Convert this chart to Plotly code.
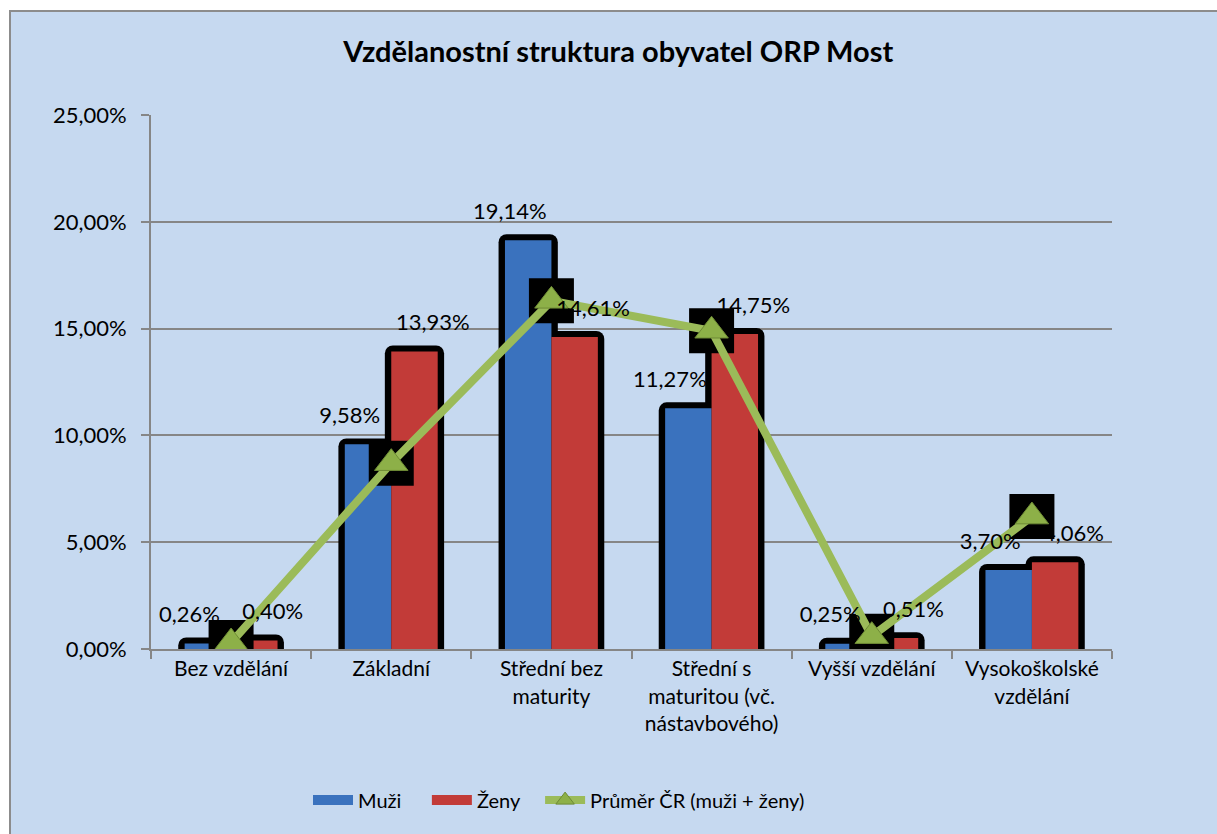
import plotly.graph_objects as go

categories = ["Bez vzdělání", "Základní", "Střední bez<br>maturity",
              "Střední s<br>maturitou (vč.<br>nástavbového)", "Vyšší vzdělání",
              "Vysokoškolské<br>vzdělání"]
muzi = [0.26, 9.58, 19.14, 11.27, 0.25, 3.70]
zeny = [0.40, 13.93, 14.61, 14.75, 0.51, 4.06]
prumer_cr = [0.30, 8.70, 16.30, 14.90, 0.60, 6.20]
y_ticks = [0, 5, 10, 15, 20, 25]

FONT = "Lato"
BLUE = "#3A72BE"
RED = "#C23B38"
GREEN = "#9BBB59"
BG = "#C6D9F0"
NBSP = "\u00a0"

def frac(vals, add=0.0):
    return [(v + add) / 100 for v in vals]

def lab(vals):
    return [f"{v:.2f}%".replace(".", ",") for v in vals]

idx = list(range(len(categories)))
fig = go.Figure()

# shadows
fig.add_trace(go.Bar(x=categories, y=frac(muzi, 0.28), offset=-0.33, width=0.37,
                     marker=dict(color="black", cornerradius=8, line_width=0),
                     showlegend=False, hoverinfo="skip"))
fig.add_trace(go.Bar(x=categories, y=frac(zeny, 0.28), offset=-0.04, width=0.37,
                     marker=dict(color="black", cornerradius=8, line_width=0),
                     showlegend=False, hoverinfo="skip"))
# bars
fig.add_trace(go.Bar(x=categories, y=frac(muzi), offset=-0.29, width=0.29,
                     marker=dict(color=BLUE, line_width=0), name="Muži",
                     showlegend=False))
fig.add_trace(go.Bar(x=categories, y=frac(zeny), offset=0.0, width=0.29,
                     marker=dict(color=RED, line_width=0), name="Ženy",
                     showlegend=False))

# legend swatches (wide rectangles like the original)
fig.add_trace(go.Scatter(x=[None], y=[None], mode="lines", name="Muži" + NBSP * 4,
                         line=dict(color=BLUE, width=16)))
fig.add_trace(go.Scatter(x=[None], y=[None], mode="lines", name="Ženy" + NBSP * 3,
                         line=dict(color=RED, width=16)))

# data labels
fig.add_trace(go.Scatter(x=[i - 0.26 for i in idx], y=frac(muzi, 1.25), xaxis="x2",
                         mode="text", text=lab(muzi), textposition="middle center",
                         textfont=dict(family=FONT, size=22, color="black"),
                         showlegend=False, hoverinfo="skip"))
fig.add_trace(go.Scatter(x=[i + 0.26 for i in idx], y=frac(zeny, 1.25), xaxis="x2",
                         mode="text", text=lab(zeny), textposition="middle center",
                         textfont=dict(family=FONT, size=22, color="black"),
                         showlegend=False, hoverinfo="skip"))

# average line: black square backdrop, then line + triangles
fig.add_trace(go.Scatter(x=categories, y=frac(prumer_cr), mode="markers",
                         marker=dict(symbol="square", size=45, color="black"),
                         showlegend=False, hoverinfo="skip"))
fig.add_trace(go.Scatter(x=categories, y=frac(prumer_cr), mode="lines+markers",
                         name="Průměr ČR (muži + ženy)",
                         line=dict(color=GREEN, width=8),
                         marker=dict(symbol="triangle-up", size=29, color="#8DB048",
                                     line=dict(color="#6E8B35", width=1))))

fig.update_layout(
    width=1217, height=834,
    margin=dict(l=151, r=105, t=115, b=185),
    paper_bgcolor="white",
    plot_bgcolor="white",
    barmode="overlay",
    separators=", ",
    font=dict(family=FONT, size=21, color="black"),
    title=dict(text="<b>Vzdělanostní struktura obyvatel ORP Most</b>",
               x=0.508, xref="container", xanchor="center",
               y=1 - 52 / 834, yref="container", yanchor="middle",
               font=dict(family=FONT, size=29, color="black")),
    xaxis=dict(type="category", tickson="boundaries", ticks="outside", ticklen=8,
               tickcolor="#868686", tickwidth=2, showline=True, linecolor="#868686",
               linewidth=2, showgrid=False, tickfont=dict(family=FONT, size=21),
               range=[-0.5, 5.5]),
    xaxis2=dict(overlaying="x", range=[-0.5, 5.5], visible=False),
    yaxis=dict(range=[0, 0.25], tickvals=frac(y_ticks), tickformat=".2%",
               ticks="outside", ticklen=8, tickcolor="#868686", tickwidth=2,
               showline=True, linecolor="#868686", linewidth=2,
               showgrid=True, gridcolor="#868686", gridwidth=2,
               zeroline=False, ticklabelstandoff=10,
               tickfont=dict(family=FONT, size=22)),
    legend=dict(orientation="h", x=(313 - 151 - 5) / 961, xanchor="left",
                y=-0.283, yanchor="middle",
                font=dict(family=FONT, size=20), bgcolor="rgba(0,0,0,0)",
                itemwidth=40, traceorder="normal"),
    shapes=[dict(type="rect", xref="paper", yref="paper", layer="below",
                 x0=(10 - 151) / 961, x1=1.2, y0=-0.5, y1=1 + (115 - 11) / 534,
                 fillcolor=BG, line=dict(color="#8C8C8C", width=2))],
)

fig.write_html("out.html", config={"displayModeBar": False},
               post_script="document.body.style.margin='0';")
